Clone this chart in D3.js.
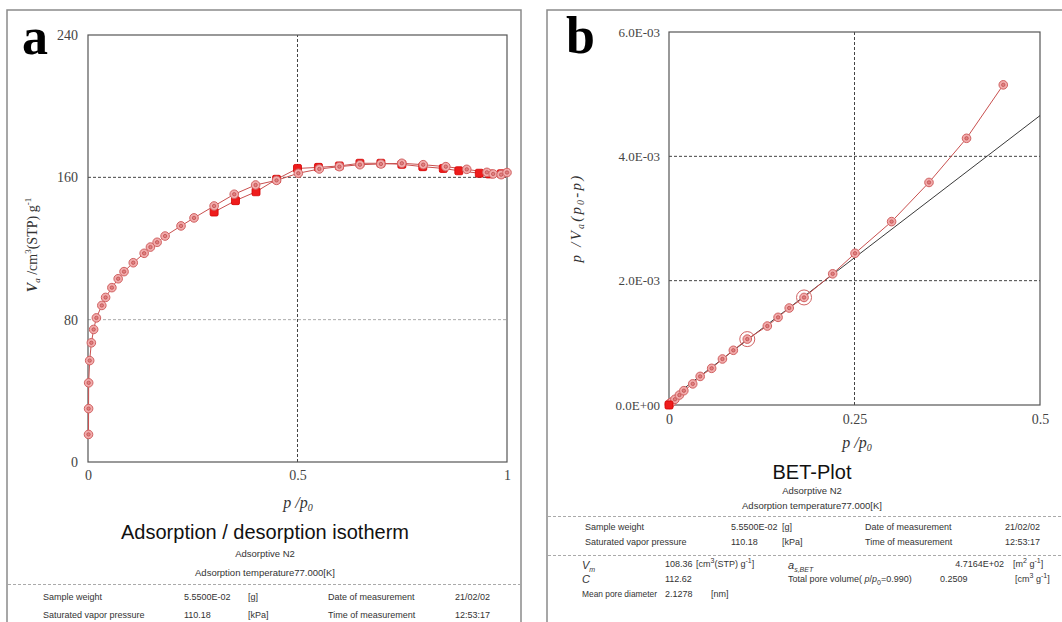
<!DOCTYPE html>
<html><head><meta charset="utf-8">
<script src="https://cdn.jsdelivr.net/npm/d3@7"></script>
<style>body{margin:0;background:#fff}svg{display:block}</style>
</head><body>
<svg id="c" width="1062" height="622"></svg>
<script>
// ---------- data ----------
// Panel a: adsorption (open markers), p/p0 and Va
const adsX = [0.0012,0.0014,0.0016,0.004,0.008,0.0135,0.020,0.033,0.042,0.057,0.072,0.086,0.108,0.134,0.149,0.165,0.184,0.222,0.253,0.301,0.349,0.400,0.450,0.502,0.552,0.600,0.649,0.699,0.749,0.800,0.854,0.904,0.952,0.967,0.986,1.000];
const adsV = [15.5,30.0,44.5,57.0,67.0,74.5,81.0,88.0,92.5,98.0,103.0,107.0,112.0,117.3,120.8,123.5,127.0,132.7,137.2,143.9,150.5,155.7,158.3,162.3,164.7,166.0,167.1,167.5,167.9,167.1,166.0,164.5,162.8,161.9,161.5,162.7];
// Panel a: desorption (filled markers)
const desX = [0.986,0.958,0.934,0.885,0.848,0.799,0.749,0.699,0.649,0.600,0.550,0.500,0.450,0.401,0.352,0.301];
const desV = [162.0,161.9,162.3,163.7,165.0,166.0,167.3,167.9,167.9,166.4,165.6,165.0,158.9,151.9,146.9,140.5];
// Panel b: BET plot points
const betX = [0.0005,0.0015,0.004,0.008,0.014,0.020,0.032,0.042,0.0575,0.072,0.0867,0.1055,0.1325,0.147,0.162,0.182,0.2206,0.2507,0.300,0.3504,0.401,0.4505];
const betY = [0.00001,0.00003,0.00005,0.000092,0.00016,0.00023,0.00034,0.00046,0.00059,0.00074,0.00088,0.00106,0.00127,0.00141,0.00156,0.00173,0.00211,0.00244,0.00295,0.00358,0.00429,0.00515];
const betRangeX = [0.1055,0.182];
const betRangeY = [0.00106,0.00173];
const betVm = 108.36, betC = 112.62;
// ticks
const aXTicks = [0,0.5,1], aXLabels = ["0","0.5","1"];
const aYTicks = [0,80,160,240];
const bXTicks = [0,0.25,0.5], bXLabels = ["0","0.25","0.5"];
const bYTicks = [0,0.002,0.004,0.006], bYLabels = ["0.0E+00","2.0E-03","4.0E-03","6.0E-03"];

// ---------- drawing ----------
const svg = d3.select("#c");
const SERIF = "'Liberation Serif','Times New Roman',serif";
const SANS = "'Liberation Sans',Arial,sans-serif";
const LINE = "#c9504f";
const FS = 9;

// frames
svg.append("rect").attr("x",7).attr("y",10).attr("width",514).attr("height",640)
  .attr("fill","none").attr("stroke","#8a8a8a").attr("stroke-width",1.5);
svg.append("rect").attr("x",547).attr("y",10).attr("width",530).attr("height",640)
  .attr("fill","none").attr("stroke","#8a8a8a").attr("stroke-width",1.5);

function marker(g, x, y){
  g.append("circle").attr("cx",x).attr("cy",y).attr("r",4.3)
    .attr("fill","#f2abab").attr("stroke","#d06262").attr("stroke-width",1);
  g.append("circle").attr("cx",x).attr("cy",y).attr("r",1.7)
    .attr("fill","#e38080").attr("stroke","#b84848").attr("stroke-width",0.7);
}
function filled(g, x, y){
  g.append("rect").attr("x",x-4).attr("y",y-4).attr("width",8).attr("height",8)
    .attr("rx",1.5).attr("fill","#ee1c1c").attr("stroke","#d40000").attr("stroke-width",0.8);
}
function info(g, x, y, t, anchor, fs){
  return g.append("text").attr("x",x).attr("y",y).attr("font-family",SANS).attr("font-size",fs||FS)
    .attr("fill","#333").attr("text-anchor",anchor||"start").text(t);
}
function rich(g,x,y,parts){
  const t = g.append("text").attr("x",x).attr("y",y).attr("font-family",SANS).attr("font-size",FS).attr("fill","#333");
  parts.forEach(p=>{
    const s = t.append("tspan").text(p.t);
    if(p.i) s.attr("font-style","italic");
    if(p.big) s.attr("font-size",11);
    if(p.sup){ s.attr("font-size",7).attr("dy",-4); }
    if(p.sub){ s.attr("font-size",7).attr("dy",3); }
    if(p.dy) s.attr("dy",p.dy);
  });
  return t;
}

// ===== Panel a =====
const xA = d3.scaleLinear([0,1],[88,507]);
const yA = d3.scaleLinear([0,240],[462,35]);
const ga = svg.append("g");
ga.append("line").attr("x1",xA(0)).attr("x2",xA(1)).attr("y1",yA(160)).attr("y2",yA(160))
  .attr("stroke","#444").attr("stroke-dasharray","3,2");
ga.append("line").attr("x1",xA(0)).attr("x2",xA(1)).attr("y1",yA(80)).attr("y2",yA(80))
  .attr("stroke","#aaa").attr("stroke-dasharray","3,2");
ga.append("line").attr("x1",xA(0.5)).attr("x2",xA(0.5)).attr("y1",yA(0)).attr("y2",yA(240))
  .attr("stroke","#444").attr("stroke-dasharray","3,2");
ga.append("rect").attr("x",xA(0)).attr("y",yA(240)).attr("width",xA(1)-xA(0)).attr("height",yA(0)-yA(240))
  .attr("fill","none").attr("stroke","#555").attr("stroke-width",1.2);
const axA = ga.append("g").attr("transform",`translate(${xA(0)},0)`)
  .call(d3.axisLeft(yA).tickValues(aYTicks).tickSize(0).tickPadding(10));
axA.select(".domain").remove();
axA.selectAll("text").attr("font-family",SERIF).attr("font-size",14).attr("fill","#444");
const axAx = ga.append("g").attr("transform",`translate(0,${yA(0)})`)
  .call(d3.axisBottom(xA).tickValues(aXTicks).tickFormat((d,i)=>aXLabels[i]).tickSize(0).tickPadding(8));
axAx.select(".domain").remove();
axAx.selectAll("text").attr("font-family",SERIF).attr("font-size",14).attr("fill","#444");
const lineA = d3.line().x(d=>xA(d[0])).y(d=>yA(d[1]));
const adsPts = adsX.map((x,i)=>[x,adsV[i]]);
const desPts = [[adsX[adsX.length-1],adsV[adsV.length-1]]].concat(desX.map((x,i)=>[x,desV[i]]));
ga.append("path").attr("d",lineA(adsPts)).attr("fill","none").attr("stroke",LINE).attr("stroke-width",1);
ga.append("path").attr("d",lineA(desPts)).attr("fill","none").attr("stroke",LINE).attr("stroke-width",1);
desX.forEach((x,i)=>filled(ga,xA(x),yA(desV[i])));
adsPts.forEach(p=>marker(ga,xA(p[0]),yA(p[1])));
ga.append("text").attr("x",22).attr("y",54).attr("font-family",SERIF).attr("font-weight","bold")
  .attr("font-size",52).attr("fill","#000").text("a");
const ytA = ga.append("text").attr("transform","translate(37,245) rotate(-90)").attr("text-anchor","middle")
  .attr("font-family",SERIF).attr("font-size",14).attr("fill","#333");
ytA.append("tspan").attr("font-style","italic").attr("font-weight","bold").text("V");
ytA.append("tspan").attr("font-style","italic").attr("font-size",9).attr("dy",3).text("a");
ytA.append("tspan").attr("dy",-3).text(" /cm");
ytA.append("tspan").attr("font-size",9).attr("dy",-6).text("3");
ytA.append("tspan").attr("dy",6).text("(STP) g");
ytA.append("tspan").attr("font-size",9).attr("dy",-6).text("-1");
const xtA = ga.append("text").attr("x",298).attr("y",508).attr("text-anchor","middle")
  .attr("font-family",SERIF).attr("font-size",16).attr("font-style","italic").attr("fill","#333");
xtA.append("tspan").text("p /p");
xtA.append("tspan").attr("font-size",10).attr("dy",3).text("0");
ga.append("text").attr("x",265).attr("y",539).attr("text-anchor","middle").attr("font-family",SANS)
  .attr("font-size",20).attr("fill","#111").text("Adsorption / desorption isotherm");
ga.append("text").attr("x",265).attr("y",557).attr("text-anchor","middle").attr("font-family",SANS)
  .attr("font-size",9.5).attr("fill","#333").text("Adsorptive N2");
ga.append("text").attr("x",265).attr("y",576).attr("text-anchor","middle").attr("font-family",SANS)
  .attr("font-size",9.5).attr("fill","#333").text("Adsorption temperature77.000[K]");
ga.append("line").attr("x1",8).attr("x2",520).attr("y1",584.5).attr("y2",584.5)
  .attr("stroke","#aaa").attr("stroke-dasharray","3,2");
info(ga,43,600,"Sample weight"); info(ga,184,600,"5.5500E-02"); info(ga,248,600,"[g]");
info(ga,328,600,"Date of measurement"); info(ga,455,600,"21/02/02");
info(ga,43,618,"Saturated vapor pressure"); info(ga,184,618,"110.18"); info(ga,248,618,"[kPa]");
info(ga,328,618,"Time of measurement"); info(ga,455,618,"12:53:17");

// ===== Panel b =====
const xB = d3.scaleLinear([0,0.5],[669,1040]);
const yB = d3.scaleLinear([0,0.006],[405,32]);
const gb = svg.append("g");
[0.002,0.004].forEach(v=>gb.append("line").attr("x1",xB(0)).attr("x2",xB(0.5)).attr("y1",yB(v)).attr("y2",yB(v))
  .attr("stroke","#444").attr("stroke-dasharray","3,2"));
gb.append("line").attr("x1",xB(0.25)).attr("x2",xB(0.25)).attr("y1",yB(0)).attr("y2",yB(0.006))
  .attr("stroke","#444").attr("stroke-dasharray","3,2");
gb.append("rect").attr("x",xB(0)).attr("y",yB(0.006)).attr("width",xB(0.5)-xB(0)).attr("height",yB(0)-yB(0.006))
  .attr("fill","none").attr("stroke","#555").attr("stroke-width",1.2);
const axB = gb.append("g").attr("transform",`translate(${xB(0)},0)`)
  .call(d3.axisLeft(yB).tickValues(bYTicks).tickFormat((d,i)=>bYLabels[i]).tickSize(0).tickPadding(9));
axB.select(".domain").remove();
axB.selectAll("text").attr("font-family",SERIF).attr("font-size",13).attr("fill","#444");
const axBx = gb.append("g").attr("transform",`translate(0,${yB(0)})`)
  .call(d3.axisBottom(xB).tickValues(bXTicks).tickFormat((d,i)=>bXLabels[i]).tickSize(0).tickPadding(9));
axBx.select(".domain").remove();
axBx.selectAll("text").attr("font-family",SERIF).attr("font-size",14).attr("fill","#444");
const slope = (betC-1)/(betVm*betC), icpt = 1/(betVm*betC);
gb.append("line").attr("x1",xB(0)).attr("y1",yB(icpt)).attr("x2",xB(0.5)).attr("y2",yB(icpt+slope*0.5))
  .attr("stroke","#222").attr("stroke-width",0.9);
const lineB = d3.line().x(d=>xB(d[0])).y(d=>yB(d[1]));
const betPts = betX.map((x,i)=>[x,betY[i]]);
gb.append("path").attr("d",lineB(betPts)).attr("fill","none").attr("stroke",LINE).attr("stroke-width",1);
betPts.forEach(p=>marker(gb,xB(p[0]),yB(p[1])));
filled(gb,xB(0),yB(0));
betRangeX.forEach((x,i)=>gb.append("circle").attr("cx",xB(x)).attr("cy",yB(betRangeY[i])).attr("r",7.5)
  .attr("fill","none").attr("stroke","#d06262").attr("stroke-width",1));
gb.append("text").attr("x",566).attr("y",53).attr("font-family",SERIF).attr("font-weight","bold")
  .attr("font-size",52).attr("fill","#000").text("b");
const ytB = gb.append("text").attr("transform","translate(581,218) rotate(-90)").attr("text-anchor","middle")
  .attr("font-family",SERIF).attr("font-size",15).attr("font-style","italic").attr("fill","#333")
  .attr("letter-spacing",2.2);
ytB.append("tspan").text("p /V");
ytB.append("tspan").attr("font-size",10).attr("dy",3).text("a");
ytB.append("tspan").attr("dy",-3).text("(p");
ytB.append("tspan").attr("font-size",10).attr("dy",3).text("0");
ytB.append("tspan").attr("dy",-3).text("-p)");
const xtB = gb.append("text").attr("x",857).attr("y",448).attr("text-anchor","middle")
  .attr("font-family",SERIF).attr("font-size",16).attr("font-style","italic").attr("fill","#333");
xtB.append("tspan").text("p /p");
xtB.append("tspan").attr("font-size",10).attr("dy",3).text("0");
gb.append("text").attr("x",812).attr("y",479).attr("text-anchor","middle").attr("font-family",SANS)
  .attr("font-size",20).attr("fill","#111").text("BET-Plot");
gb.append("text").attr("x",812).attr("y",494).attr("text-anchor","middle").attr("font-family",SANS)
  .attr("font-size",9.5).attr("fill","#333").text("Adsorptive N2");
gb.append("text").attr("x",812).attr("y",509).attr("text-anchor","middle").attr("font-family",SANS)
  .attr("font-size",9.5).attr("fill","#333").text("Adsorption temperature77.000[K]");
gb.append("line").attr("x1",548).attr("x2",1062).attr("y1",516.5).attr("y2",516.5)
  .attr("stroke","#aaa").attr("stroke-dasharray","3,2");
gb.append("line").attr("x1",548).attr("x2",1062).attr("y1",555.5).attr("y2",555.5)
  .attr("stroke","#aaa").attr("stroke-dasharray","3,2");
info(gb,585,530,"Sample weight"); info(gb,731,530,"5.5500E-02"); info(gb,782,530,"[g]");
info(gb,865,530,"Date of measurement"); info(gb,1005,530,"21/02/02");
info(gb,585,545,"Saturated vapor pressure"); info(gb,731,545,"110.18"); info(gb,782,545,"[kPa]");
info(gb,865,545,"Time of measurement"); info(gb,1005,545,"12:53:17");
rich(gb,582,569,[{t:"V",i:1,big:1},{t:"m",i:1,sub:1}]);
info(gb,665,567,"108.36");
rich(gb,696,567,[{t:"[cm"},{t:"3",sup:1},{t:"(STP) g",dy:4},{t:"-1",sup:1},{t:"]",dy:4}]);
rich(gb,788,569,[{t:"a",i:1,big:1},{t:"s,BET",i:1,sub:1}]);
info(gb,1004,567,"4.7164E+02","end");
rich(gb,1013,567,[{t:"[m"},{t:"2",sup:1},{t:" g",dy:4},{t:"-1",sup:1},{t:"]",dy:4}]);
rich(gb,582,583,[{t:"C",i:1,big:1}]);
info(gb,665,582,"112.62");
rich(gb,788,582,[{t:"Total pore volume( "},{t:"p",i:1},{t:"/"},{t:"p",i:1},{t:"0",sub:1},{t:"=0.990)",dy:-3}]);
info(gb,940,582,"0.2509");
rich(gb,1015,582,[{t:"[cm"},{t:"3",sup:1},{t:" g",dy:4},{t:"-1",sup:1},{t:"]",dy:4}]);
info(gb,582,597,"Mean pore diameter",null,8.4); info(gb,665,597,"2.1278"); info(gb,711,597,"[nm]");
</script>
</body></html>
